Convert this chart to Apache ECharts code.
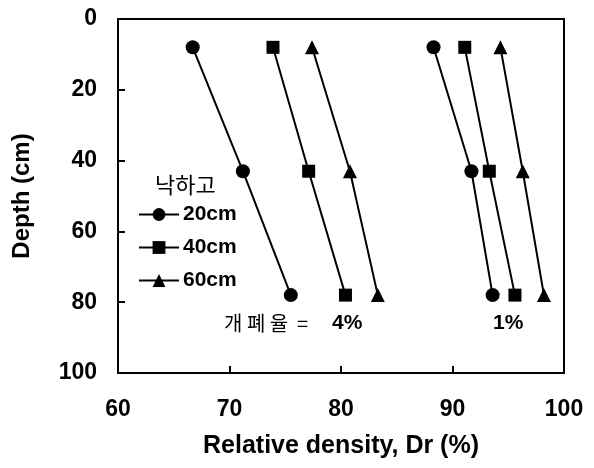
<!DOCTYPE html>
<html>
<head>
<meta charset="utf-8">
<script src="https://cdn.jsdelivr.net/npm/echarts@6/dist/echarts.min.js"></script>
<style>
  html, body { margin: 0; padding: 0; background: #fff; }
  #chart { width: 594px; height: 468px; }
</style>
</head>
<body>
<div id="chart"></div>
<script>
  // depth of measurement points (cm)
  var depths = [8, 43, 78];

  // relative density Dr (%), 개폐율 4%
  var dr4_20cm = [66.7, 71.2, 75.5];
  var dr4_40cm = [73.9, 77.1, 80.4];
  var dr4_60cm = [77.4, 80.8, 83.3];

  // relative density Dr (%), 개폐율 1%
  var dr1_20cm = [88.3, 91.7, 93.6];
  var dr1_40cm = [91.1, 93.3, 95.6];
  var dr1_60cm = [94.3, 96.3, 98.2];

  var dropHeights = ['20cm', '40cm', '60cm'];
  var symbols = ['circle', 'rect', 'triangle'];

  var fontEn = '"Liberation Sans", Arial, sans-serif';
  var fontKr = '"Noto Sans CJK KR", sans-serif';

  function pairs(xs) {
    var out = [];
    for (var i = 0; i < xs.length; i++) {
      out.push([xs[i], depths[i]]);
    }
    return out;
  }

  function makeSeries(name, symbol, xs) {
    return {
      name: name,
      type: 'line',
      data: pairs(xs),
      symbol: symbol,
      symbolSize: symbol == 'rect' ? 13 : 14,
      showSymbol: true,
      itemStyle: { color: '#000' },
      lineStyle: { color: '#000', width: 2 },
      animation: false
    };
  }

  var groups = [
    [dr4_20cm, dr4_40cm, dr4_60cm],
    [dr1_20cm, dr1_40cm, dr1_60cm]
  ];
  var series = [];
  groups.forEach(function (g) {
    g.forEach(function (xs, k) {
      series.push(makeSeries(dropHeights[k], symbols[k], xs));
    });
  });

  var myChart = echarts.init(document.getElementById('chart'));
  var option = {
    backgroundColor: '#fff',
    animation: false,
    grid: {
      left: 118,
      right: 30,
      top: 19,
      bottom: 95,
      show: true,
      borderColor: '#000',
      borderWidth: 2
    },
    legend: {
      data: dropHeights,
      orient: 'vertical',
      left: 133,
      top: 199,
      itemWidth: 40,
      itemHeight: 16,
      itemGap: 12,
      selectedMode: false,
      textStyle: {
        fontFamily: fontEn,
        fontWeight: 'bold',
        fontSize: 21,
        color: '#000',
        padding: [0, 0, 0, -1]
      }
    },
    xAxis: {
      type: 'value',
      position: 'bottom',
      min: 60,
      max: 100,
      interval: 10,
      name: 'Relative density, Dr (%)',
      nameLocation: 'middle',
      nameGap: 61,
      nameTextStyle: {
        fontFamily: fontEn,
        fontWeight: 'bold',
        fontSize: 25,
        color: '#000'
      },
      axisLine: { show: true, onZero: false, lineStyle: { color: '#000', width: 2 } },
      axisTick: { show: true, inside: true, length: 7, lineStyle: { color: '#000', width: 2 } },
      axisLabel: {
        margin: 25,
        fontFamily: fontEn,
        fontWeight: 'bold',
        fontSize: 23,
        color: '#000'
      },
      splitLine: { show: false }
    },
    yAxis: {
      type: 'value',
      position: 'left',
      inverse: true,
      min: 0,
      max: 100,
      interval: 20,
      name: 'Depth (cm)',
      nameLocation: 'middle',
      nameGap: 84,
      nameTextStyle: {
        fontFamily: fontEn,
        fontWeight: 'bold',
        fontSize: 24,
        color: '#000'
      },
      axisLine: { show: true, onZero: false, lineStyle: { color: '#000', width: 2 } },
      axisTick: { show: true, inside: true, length: 7, lineStyle: { color: '#000', width: 2 } },
      axisLabel: {
        margin: 21,
        fontFamily: fontEn,
        fontWeight: 'bold',
        fontSize: 23,
        color: '#000'
      },
      splitLine: { show: false }
    },
    graphic: [
      {
        type: 'text',
        left: 155,
        top: 174,
        style: {
          text: '낙하고',
          fontFamily: fontKr,
          fontSize: 22,
          fill: '#000'
        }
      },
      {
        type: 'text',
        left: 224,
        top: 313,
        style: {
          text: '개 폐 율  =',
          fontFamily: fontKr,
          fontSize: 20,
          fill: '#000'
        }
      },
      {
        type: 'text',
        left: 332,
        top: 313,
        style: {
          text: '4%',
          fontFamily: fontEn,
          fontWeight: 'bold',
          fontSize: 21,
          fill: '#000'
        }
      },
      {
        type: 'text',
        left: 493,
        top: 313,
        style: {
          text: '1%',
          fontFamily: fontEn,
          fontWeight: 'bold',
          fontSize: 21,
          fill: '#000'
        }
      }
    ],
    series: series
  };
  myChart.setOption(option);
</script>
</body>
</html>
